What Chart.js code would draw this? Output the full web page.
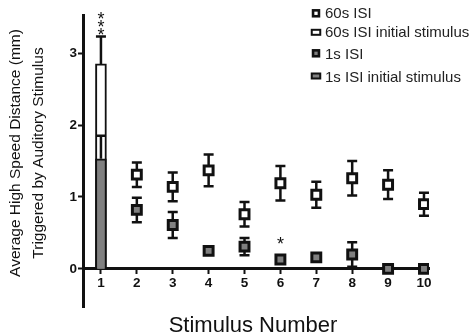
<!DOCTYPE html>
<html>
<head>
<meta charset="utf-8">
<script src="https://cdn.jsdelivr.net/npm/chart.js@4"></script>
<style>
  html, body { margin: 0; padding: 0; background: #fff; }
</style>
</head>
<body>
<canvas id="chart" width="475" height="335"></canvas>
<script>
// x categories
const stimuli = [1, 2, 3, 4, 5, 6, 7, 8, 9, 10];
// mean distance (mm); stimulus 1 is drawn as bars instead
const isi60 = [null, 1.31, 1.14, 1.37, 0.76, 1.19, 1.03, 1.26, 1.17, 0.90];
const isi60Err = [null, 0.17, 0.20, 0.22, 0.17, 0.24, 0.18, 0.24, 0.20, 0.16];
const isi1 = [null, 0.82, 0.61, 0.25, 0.31, 0.13, 0.16, 0.20, 0.00, 0.00];
const isi1Err = [null, 0.17, 0.18, 0.04, 0.12, 0.04, 0.03, 0.17, 0, 0];
// initial stimulus bars: [60s ISI, 1s ISI]
const initialMean = [2.85, 1.53];
const initialErr = [0.38, 0.32];
const yTicks = [0, 1, 2, 3];
// significance stars
const sigX = [1, 6];
const sigY = [3.31, 0.40];
const sigText = ['***', '*'];
const legendLabels = ['60s ISI', '60s ISI initial stimulus', '1s ISI', '1s ISI initial stimulus'];

const INK = '#111';
const GREY = '#808080';
const FONT = 'Arial, "Liberation Sans", sans-serif';
Chart.defaults.font.family = FONT;

function drawErr(chart, meta, ds, upOnly) {
  const ctx = chart.ctx, y = chart.scales.y;
  ctx.save();
  ctx.strokeStyle = INK;
  ctx.lineWidth = 2.5;
  meta.data.forEach((el, i) => {
    const v = ds.data[i].y, e = ds.errors[i];
    if (v == null || !e) return;
    const x = el.x;
    const top = y.getPixelForValue(v + e);
    const bot = upOnly ? el.y : y.getPixelForValue(v - e);
    ctx.beginPath();
    ctx.moveTo(x, top); ctx.lineTo(x, bot);
    ctx.moveTo(x - 5, top); ctx.lineTo(x + 5, top);
    if (!upOnly) { ctx.moveTo(x - 5, bot); ctx.lineTo(x + 5, bot); }
    ctx.stroke();
  });
  ctx.restore();
}

const errorBars = {
  id: 'errorBars',
  beforeDatasetDraw(chart, args) {
    const ds = chart.data.datasets[args.index];
    if (ds.errors && ds.type !== 'bar') drawErr(chart, args.meta, ds, false);
  },
  afterDatasetDraw(chart, args) {
    const ds = chart.data.datasets[args.index];
    if (ds.errors && ds.type === 'bar') drawErr(chart, args.meta, ds, true);
  }
};

function box(ctx, cx, cy, w, h, fill, lw) {
  ctx.fillStyle = INK;
  ctx.fillRect(cx - w / 2, cy - h / 2, w, h);
  ctx.fillStyle = fill;
  ctx.fillRect(cx - w / 2 + lw, cy - h / 2 + lw, w - 2 * lw, h - 2 * lw);
}

const extras = {
  id: 'extras',
  afterDraw(chart) {
    const ctx = chart.ctx, xs = chart.scales.x, ys = chart.scales.y;
    ctx.save();
    ctx.fillStyle = INK;
    // y axis title, two lines
    ctx.font = '15.5px ' + FONT;
    ctx.textAlign = 'center';
    ctx.textBaseline = 'alphabetic';
    [['Average High Speed Distance (mm)', 20], ['Triggered by Auditory Stimulus', 43]].forEach(([t, x]) => {
      ctx.save();
      ctx.translate(x, 153);
      ctx.rotate(-Math.PI / 2);
      ctx.fillText(t, 0, 0);
      ctx.restore();
    });
    // x axis title
    ctx.font = '22px ' + FONT;
    ctx.fillText('Stimulus Number', 253, 332);
    // stars
    ctx.font = '18px ' + FONT;
    sigX.forEach((sx, i) => {
      const px = xs.getPixelForValue(sx), py = ys.getPixelForValue(sigY[i]);
      for (let k = 0; k < sigText[i].length; k++) {
        ctx.fillText('*', px, py - k * 8 + 10);
      }
    });
    // legend
    const rows = [13.3, 32.3, 53.3, 76];
    const baselines = [18.3, 36.7, 59, 81.5];
    box(ctx, 316, rows[0], 8.5, 8.5, '#fff', 2.6);
    box(ctx, 316, rows[1], 10.5, 7, '#fff', 2);
    box(ctx, 316, rows[2], 8.5, 8.5, GREY, 2.6);
    box(ctx, 316, rows[3], 10.5, 7, GREY, 2);
    ctx.fillStyle = '#222';
    ctx.font = '15px ' + FONT;
    ctx.textAlign = 'left';
    legendLabels.forEach((t, i) => ctx.fillText(t, 325, baselines[i]));
    ctx.restore();
  }
};

const ctx = document.getElementById('chart');
new Chart(ctx, {
  type: 'scatter',
  data: {
    datasets: [{
      type: 'bar',
      label: legendLabels[1],
      data: [{ x: stimuli[0], y: initialMean[0] }],
      errors: [initialErr[0]],
      backgroundColor: '#fff',
      borderColor: INK,
      borderWidth: 2,
      barThickness: 11,
      grouped: false,
      order: 4
    }, {
      type: 'bar',
      label: legendLabels[3],
      data: [{ x: stimuli[0], y: initialMean[1] }],
      errors: [initialErr[1]],
      backgroundColor: GREY,
      borderColor: INK,
      borderWidth: 2,
      barThickness: 11,
      grouped: false,
      order: 3
    }, {
      label: legendLabels[0],
      data: stimuli.map((s, i) => ({ x: s, y: isi60[i] })),
      errors: isi60Err,
      pointStyle: 'rect',
      pointRadius: 6.3,
      pointBorderWidth: 3,
      borderColor: INK,
      backgroundColor: '#fff',
      order: 2
    }, {
      label: legendLabels[2],
      data: stimuli.map((s, i) => ({ x: s, y: isi1[i] })),
      errors: isi1Err,
      pointStyle: 'rect',
      pointRadius: 6.3,
      pointBorderWidth: 3,
      borderColor: INK,
      backgroundColor: GREY,
      order: 1
    }]
  },
  options: {
    responsive: false,
    animation: false,
    layout: { padding: { top: 15, right: 46, bottom: 28, left: 0 } },
    plugins: { legend: { display: false }, tooltip: { enabled: false } },
    scales: {
      x: {
        type: 'linear',
        position: { y: 0 },
        offset: false,
        min: 0.5,
        max: 10.14,
        afterBuildTicks: (s) => { s.ticks = stimuli.map(v => ({ value: v })); },
        grid: { offset: false, drawOnChartArea: false, tickLength: 4, tickWidth: 2, tickColor: INK },
        border: { width: 3, color: INK },
        ticks: { color: INK, font: { size: 13.5, weight: 'bold' }, padding: 2, maxRotation: 0, autoSkip: false }
      },
      y: {
        min: -0.53,
        max: 3.53,
        afterBuildTicks: (s) => { s.ticks = yTicks.map(v => ({ value: v })); },
        afterFit: (s) => { s.width = 83; },
        grid: { drawOnChartArea: false, tickLength: 5, tickWidth: 2, tickColor: INK },
        border: { width: 3, color: INK },
        ticks: { color: INK, font: { size: 13.5, weight: 'bold' }, padding: 1 }
      }
    }
  },
  plugins: [errorBars, extras]
});
</script>
</body>
</html>
